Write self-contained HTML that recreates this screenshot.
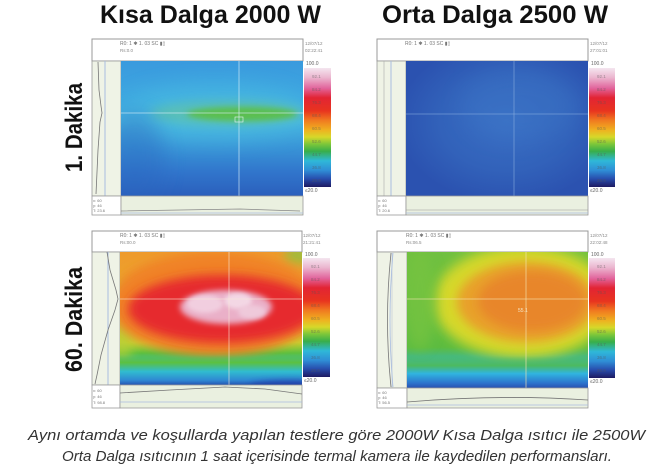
<!DOCTYPE html>
<html><head><meta charset="utf-8"><style>
html,body{margin:0;padding:0;background:#fff;}
svg{display:block;}
</style></head><body>
<svg width="654" height="471" viewBox="0 0 654 471" xmlns="http://www.w3.org/2000/svg" font-family="Liberation Sans, sans-serif">
<defs>
  <filter id="b2" x="-50%" y="-50%" width="200%" height="200%"><feGaussianBlur stdDeviation="2"/></filter>
  <filter id="b3" x="-50%" y="-50%" width="200%" height="200%"><feGaussianBlur stdDeviation="3"/></filter>
  <filter id="b5" x="-50%" y="-50%" width="200%" height="200%"><feGaussianBlur stdDeviation="5"/></filter>
  <filter id="b6" x="-50%" y="-50%" width="200%" height="200%"><feGaussianBlur stdDeviation="6"/></filter>
  <filter id="b10" x="-50%" y="-50%" width="200%" height="200%"><feGaussianBlur stdDeviation="10"/></filter>
  <linearGradient id="cb" x1="0" y1="0" x2="0" y2="1">
    <stop offset="0" stop-color="#f4e6ef"/>
    <stop offset="0.08" stop-color="#ebb6cf"/>
    <stop offset="0.17" stop-color="#e2649c"/>
    <stop offset="0.25" stop-color="#e22434"/>
    <stop offset="0.36" stop-color="#e8341f"/>
    <stop offset="0.44" stop-color="#f07a20"/>
    <stop offset="0.52" stop-color="#efb020"/>
    <stop offset="0.58" stop-color="#d6d82a"/>
    <stop offset="0.64" stop-color="#7cc63a"/>
    <stop offset="0.70" stop-color="#38ae4a"/>
    <stop offset="0.78" stop-color="#2fb8d8"/>
    <stop offset="0.86" stop-color="#2f8ed6"/>
    <stop offset="0.93" stop-color="#284eae"/>
    <stop offset="1" stop-color="#1e1a62"/>
  </linearGradient>
  <linearGradient id="g1" x1="0" y1="0" x2="0" y2="1">
    <stop offset="0" stop-color="#3a9ade"/>
    <stop offset="0.3" stop-color="#3ea8e0"/>
    <stop offset="0.45" stop-color="#46b4e0"/>
    <stop offset="0.62" stop-color="#3a98d8"/>
    <stop offset="0.82" stop-color="#3176cc"/>
    <stop offset="1" stop-color="#2b5fbc"/>
  </linearGradient>
  <radialGradient id="g2" cx="0.55" cy="0.45" r="0.6">
    <stop offset="0" stop-color="#3a6fc4"/>
    <stop offset="0.6" stop-color="#3262ba"/>
    <stop offset="1" stop-color="#2b52b0"/>
  </radialGradient>
  <linearGradient id="g3" x1="0" y1="0" x2="0" y2="1">
    <stop offset="0" stop-color="#ee9a2c"/>
    <stop offset="0.55" stop-color="#eab030"/>
    <stop offset="0.68" stop-color="#c8d030"/>
    <stop offset="0.76" stop-color="#5cc040"/>
    <stop offset="0.86" stop-color="#30bccc"/>
    <stop offset="0.95" stop-color="#2f86d2"/>
    <stop offset="1" stop-color="#2452b0"/>
  </linearGradient>
  <linearGradient id="g4" x1="0" y1="0" x2="0" y2="1">
    <stop offset="0" stop-color="#70c040"/>
    <stop offset="0.7" stop-color="#5cbc40"/>
    <stop offset="0.8" stop-color="#3cb89a"/>
    <stop offset="0.88" stop-color="#30b4e0"/>
    <stop offset="0.96" stop-color="#2c72cc"/>
    <stop offset="1" stop-color="#2850b0"/>
  </linearGradient>
  <linearGradient id="bot3" x1="0" y1="0" x2="0" y2="1">
    <stop offset="0" stop-color="#5cc040" stop-opacity="0"/>
    <stop offset="0.25" stop-color="#5cc040" stop-opacity="1"/>
    <stop offset="0.55" stop-color="#30bcd0"/>
    <stop offset="0.85" stop-color="#2f86d2"/>
    <stop offset="1" stop-color="#2452b0"/>
  </linearGradient>
  <linearGradient id="bot4" x1="0" y1="0" x2="0" y2="1">
    <stop offset="0" stop-color="#5cbc40" stop-opacity="0"/>
    <stop offset="0.3" stop-color="#4cba60" stop-opacity="1"/>
    <stop offset="0.55" stop-color="#30b4e0"/>
    <stop offset="0.85" stop-color="#2c72cc"/>
    <stop offset="1" stop-color="#2850b0"/>
  </linearGradient>
  <clipPath id="c1"><rect x="121" y="61" width="182" height="135"/></clipPath>
  <clipPath id="c2"><rect x="406" y="61" width="182" height="135"/></clipPath>
  <clipPath id="c3"><rect x="120" y="252" width="182" height="133"/></clipPath>
  <clipPath id="c4"><rect x="407" y="252" width="181" height="136"/></clipPath>
</defs>

<rect width="654" height="471" fill="#fff"/>

<!-- Titles -->
<text x="100" y="23" font-size="25" font-weight="bold" fill="#111" textLength="221" lengthAdjust="spacingAndGlyphs">Kısa Dalga 2000 W</text>
<text x="382" y="23" font-size="25" font-weight="bold" fill="#111" textLength="226" lengthAdjust="spacingAndGlyphs">Orta Dalga 2500 W</text>
<text transform="translate(82,172) rotate(-90)" font-size="24" font-weight="bold" fill="#111" textLength="89" lengthAdjust="spacingAndGlyphs">1. Dakika</text>
<text transform="translate(82,372) rotate(-90)" font-size="24" font-weight="bold" fill="#111" textLength="105" lengthAdjust="spacingAndGlyphs">60. Dakika</text>

<!-- ===== Panel 1 ===== -->
<g>
  <rect x="92" y="39" width="211" height="22" fill="#fff" stroke="#999" stroke-width="1"/>
  <text x="120" y="45" font-size="5" fill="#777">R0: 1  ✱  1. 03  SC  ▮▯</text>
  <text x="120" y="52" font-size="4.5" fill="#888">Rs:0.0</text>
  <text x="305" y="45" font-size="4.5" fill="#888">12/07/12</text>
  <text x="305" y="52" font-size="4.5" fill="#888">02:22:41</text>
  <rect x="92" y="61" width="29" height="135" fill="#eff3e6" stroke="#999" stroke-width="0.8"/>
  <line x1="105" y1="61" x2="105" y2="196" stroke="#a8bce0" stroke-width="1"/>
  <polyline points="98,62 99,90 101,106 102,113 100,122 98,150 96,194" fill="none" stroke="#777" stroke-width="0.8"/>
  <g clip-path="url(#c1)">
    <rect x="121" y="61" width="182" height="135" fill="url(#g1)"/>
    <ellipse cx="215" cy="112" rx="95" ry="28" fill="#4cc0e2" opacity="0.55" filter="url(#b10)"/>
    <ellipse cx="228" cy="113" rx="78" ry="12" fill="#62c3a0" opacity="0.65" filter="url(#b5)"/>
    <ellipse cx="242" cy="114" rx="55" ry="7" fill="#5cbf48" opacity="0.95" filter="url(#b3)"/>
    <ellipse cx="135" cy="160" rx="30" ry="50" fill="#2c66c0" opacity="0.4" filter="url(#b10)"/>
  </g>
  <line x1="121" y1="113" x2="303" y2="113" stroke="#d8eef8" stroke-width="0.8" opacity="0.8"/>
  <line x1="239" y1="61" x2="239" y2="196" stroke="#d8eef8" stroke-width="0.8" opacity="0.8"/>
  <rect x="235" y="117" width="8" height="5" fill="none" stroke="#e8f4f8" stroke-width="0.6"/>
  <rect x="92" y="196" width="29" height="19" fill="#fff" stroke="#999" stroke-width="0.8"/>
  <text x="93" y="202" font-size="4" fill="#777">x: 60</text>
  <text x="93" y="207" font-size="4" fill="#777">y: 46</text>
  <text x="93" y="212" font-size="4" fill="#777">T: 23.6</text>
  <rect x="121" y="196" width="182" height="19" fill="#eaf0e0" stroke="#999" stroke-width="0.8"/>
  <polyline points="121,211 180,210 240,209 300,211" fill="none" stroke="#888" stroke-width="0.8"/>
  <line x1="121" y1="213" x2="303" y2="213" stroke="#a8bce0" stroke-width="0.8"/>
  <rect x="304" y="68" width="27" height="119" fill="url(#cb)"/>
  <rect x="304" y="59" width="27" height="8" fill="#fff"/>
  <text x="306" y="65" font-size="5" fill="#666">100.0</text>
  <text x="305" y="192" font-size="5" fill="#666">≤20.0</text>
  <g font-size="4.5" fill="#555" opacity="0.55">
    <text x="312" y="78">92.1</text><text x="312" y="91">84.2</text><text x="312" y="104">76.3</text>
    <text x="312" y="117">68.4</text><text x="312" y="130">60.5</text><text x="312" y="143">52.6</text>
    <text x="312" y="156">44.7</text><text x="312" y="169">36.8</text><text x="312" y="182">28.9</text>
  </g>
</g>

<!-- ===== Panel 2 ===== -->
<g>
  <rect x="377" y="39" width="211" height="22" fill="#fff" stroke="#999" stroke-width="1"/>
  <text x="405" y="45" font-size="5" fill="#777">R0: 1  ✱  1. 03  SC  ▮▯</text>
  <text x="590" y="45" font-size="4.5" fill="#888">12/07/12</text>
  <text x="590" y="52" font-size="4.5" fill="#888">27:01:01</text>
  <rect x="377" y="61" width="29" height="135" fill="#eff3e6" stroke="#999" stroke-width="0.8"/>
  <line x1="391" y1="61" x2="391" y2="196" stroke="#a8bce0" stroke-width="1"/>
  <line x1="384" y1="61" x2="384" y2="196" stroke="#aaa" stroke-width="0.6"/>
  <g clip-path="url(#c2)">
    <rect x="406" y="61" width="182" height="135" fill="url(#g2)"/>
    <ellipse cx="520" cy="105" rx="60" ry="35" fill="#3c78c8" opacity="0.35" filter="url(#b10)"/>
  </g>
  <line x1="406" y1="114" x2="588" y2="114" stroke="#8cb0e0" stroke-width="0.8" opacity="0.7"/>
  <line x1="514" y1="61" x2="514" y2="196" stroke="#8cb0e0" stroke-width="0.8" opacity="0.7"/>
  <rect x="377" y="196" width="29" height="19" fill="#fff" stroke="#999" stroke-width="0.8"/>
  <text x="378" y="202" font-size="4" fill="#777">x: 60</text>
  <text x="378" y="207" font-size="4" fill="#777">y: 46</text>
  <text x="378" y="212" font-size="4" fill="#777">T: 20.6</text>
  <rect x="406" y="196" width="182" height="19" fill="#eaf0e0" stroke="#999" stroke-width="0.8"/>
  <line x1="406" y1="210" x2="588" y2="210" stroke="#999" stroke-width="0.6"/>
  <line x1="406" y1="213" x2="588" y2="213" stroke="#a8bce0" stroke-width="0.8"/>
  <rect x="589" y="68" width="26" height="119" fill="url(#cb)"/>
  <rect x="589" y="59" width="26" height="8" fill="#fff"/>
  <text x="591" y="65" font-size="5" fill="#666">100.0</text>
  <text x="590" y="192" font-size="5" fill="#666">≤20.0</text>
  <g font-size="4.5" fill="#555" opacity="0.55">
    <text x="597" y="78">92.1</text><text x="597" y="91">84.2</text><text x="597" y="104">76.3</text>
    <text x="597" y="117">68.4</text><text x="597" y="130">60.5</text><text x="597" y="143">52.6</text>
    <text x="597" y="156">44.7</text><text x="597" y="169">36.8</text><text x="597" y="182">28.9</text>
  </g>
</g>

<!-- ===== Panel 3 ===== -->
<g>
  <rect x="92" y="231" width="210" height="21" fill="#fff" stroke="#999" stroke-width="1"/>
  <text x="120" y="237" font-size="5" fill="#777">R0: 1  ✱  1. 03  SC  ▮▯</text>
  <text x="120" y="244" font-size="4.5" fill="#888">Rs:00.0</text>
  <text x="303" y="237" font-size="4.5" fill="#888">12/07/12</text>
  <text x="303" y="244" font-size="4.5" fill="#888">21:21:41</text>
  <rect x="92" y="252" width="28" height="133" fill="#eff3e6" stroke="#999" stroke-width="0.8"/>
  <line x1="108" y1="252" x2="108" y2="385" stroke="#a8bce0" stroke-width="1"/>
  <polyline points="107,252 110,270 116,290 118,299 115,310 108,330 101,355 97,375 95,384" fill="none" stroke="#777" stroke-width="0.8"/>
  <g clip-path="url(#c3)">
    <rect x="120" y="252" width="182" height="133" fill="url(#g3)"/>
    <ellipse cx="122" cy="322" rx="12" ry="40" fill="#b8d038" opacity="0.8" filter="url(#b6)"/>
    <ellipse cx="300" cy="255" rx="16" ry="9" fill="#90c440" opacity="0.8" filter="url(#b5)"/>
    <ellipse cx="215" cy="304" rx="106" ry="52" fill="#f08226" filter="url(#b5)"/>
    <ellipse cx="222" cy="309" rx="94" ry="34" fill="#e62c2e" filter="url(#b5)"/>
    <ellipse cx="226" cy="307" rx="46" ry="17" fill="#eab0c8" filter="url(#b3)"/>
    <ellipse cx="205" cy="304" rx="18" ry="9" fill="#f2d2e2" opacity="0.9" filter="url(#b2)"/>
    <ellipse cx="238" cy="301" rx="14" ry="8" fill="#f4dce8" opacity="0.9" filter="url(#b2)"/>
    <ellipse cx="252" cy="312" rx="14" ry="7" fill="#f0cede" opacity="0.85" filter="url(#b2)"/>
    <rect x="120" y="355" width="182" height="30" fill="url(#bot3)"/>
    <ellipse cx="290" cy="386" rx="40" ry="6" fill="#2040a8" opacity="0.8" filter="url(#b3)"/>
  </g>
  <line x1="120" y1="299" x2="302" y2="299" stroke="#f8e8d8" stroke-width="0.8" opacity="0.75"/>
  <line x1="229" y1="252" x2="229" y2="385" stroke="#f8e8d8" stroke-width="0.8" opacity="0.75"/>
  <rect x="92" y="385" width="28" height="23" fill="#fff" stroke="#999" stroke-width="0.8"/>
  <text x="93" y="392" font-size="4" fill="#777">x: 60</text>
  <text x="93" y="398" font-size="4" fill="#777">y: 46</text>
  <text x="93" y="404" font-size="4" fill="#777">T: 98.8</text>
  <rect x="120" y="385" width="182" height="23" fill="#eaf0e0" stroke="#999" stroke-width="0.8"/>
  <polyline points="120,393 170,390 225,387 265,389 302,394" fill="none" stroke="#777" stroke-width="0.8"/>
  <line x1="120" y1="402" x2="302" y2="402" stroke="#a8bce0" stroke-width="0.8"/>
  <rect x="303" y="258" width="27" height="119" fill="url(#cb)"/>
  <rect x="303" y="250" width="27" height="8" fill="#fff"/>
  <text x="305" y="256" font-size="5" fill="#666">100.0</text>
  <text x="304" y="382" font-size="5" fill="#666">≤20.0</text>
  <g font-size="4.5" fill="#555" opacity="0.55">
    <text x="311" y="268">92.1</text><text x="311" y="281">84.2</text><text x="311" y="294">76.3</text>
    <text x="311" y="307">68.4</text><text x="311" y="320">60.5</text><text x="311" y="333">52.6</text>
    <text x="311" y="346">44.7</text><text x="311" y="359">36.8</text><text x="311" y="372">28.9</text>
  </g>
</g>

<!-- ===== Panel 4 ===== -->
<g>
  <rect x="377" y="231" width="211" height="21" fill="#fff" stroke="#999" stroke-width="1"/>
  <text x="406" y="237" font-size="5" fill="#777">R0: 1  ✱  1. 03  SC  ▮▯</text>
  <text x="406" y="244" font-size="4.5" fill="#888">Rs:06.5</text>
  <text x="590" y="237" font-size="4.5" fill="#888">12/07/12</text>
  <text x="590" y="244" font-size="4.5" fill="#888">22:02:48</text>
  <rect x="377" y="252" width="30" height="136" fill="#eff3e6" stroke="#999" stroke-width="0.8"/>
  <line x1="392" y1="252" x2="392" y2="388" stroke="#c8d0d8" stroke-width="0.8"/>
  <path d="M391,253 Q384,320 391,387" fill="none" stroke="#777" stroke-width="0.8"/>
  <path d="M393,253 Q387,320 393,387" fill="none" stroke="#a8bce0" stroke-width="0.8"/>
  <g clip-path="url(#c4)">
    <rect x="407" y="252" width="181" height="136" fill="url(#g4)"/>
    <ellipse cx="523" cy="302" rx="90" ry="56" fill="#d6d82a" filter="url(#b6)"/>
    <ellipse cx="527" cy="302" rx="70" ry="40" fill="#e8a02a" filter="url(#b5)"/>
    <ellipse cx="532" cy="301" rx="54" ry="30" fill="#e8862a" filter="url(#b5)"/>
    <ellipse cx="420" cy="300" rx="16" ry="50" fill="#78c440" opacity="0.7" filter="url(#b6)"/>
    <rect x="407" y="356" width="181" height="32" fill="url(#bot4)"/>
  </g>
  <line x1="407" y1="299" x2="588" y2="299" stroke="#f4e4b0" stroke-width="0.8" opacity="0.8"/>
  <line x1="526" y1="252" x2="526" y2="388" stroke="#f4e4b0" stroke-width="0.8" opacity="0.8"/>
  <text x="518" y="312" font-size="5" fill="#f6e8c8">55.1</text>
  <rect x="377" y="388" width="30" height="20" fill="#fff" stroke="#999" stroke-width="0.8"/>
  <text x="378" y="394" font-size="4" fill="#777">x: 60</text>
  <text x="378" y="399" font-size="4" fill="#777">y: 46</text>
  <text x="378" y="404" font-size="4" fill="#777">T: 56.5</text>
  <rect x="407" y="388" width="181" height="20" fill="#eaf0e0" stroke="#999" stroke-width="0.8"/>
  <path d="M407,402 Q500,394 588,400" fill="none" stroke="#777" stroke-width="0.8"/>
  <line x1="407" y1="405" x2="588" y2="405" stroke="#a8bce0" stroke-width="0.8"/>
  <rect x="589" y="258" width="26" height="120" fill="url(#cb)"/>
  <rect x="589" y="250" width="26" height="8" fill="#fff"/>
  <text x="591" y="256" font-size="5" fill="#666">100.0</text>
  <text x="590" y="383" font-size="5" fill="#666">≤20.0</text>
  <g font-size="4.5" fill="#555" opacity="0.55">
    <text x="597" y="268">92.1</text><text x="597" y="281">84.2</text><text x="597" y="294">76.3</text>
    <text x="597" y="307">68.4</text><text x="597" y="320">60.5</text><text x="597" y="333">52.6</text>
    <text x="597" y="346">44.7</text><text x="597" y="359">36.8</text><text x="597" y="372">28.9</text>
  </g>
</g>

<!-- Caption -->
<text x="28" y="440" font-size="14.5" font-style="italic" fill="#333" textLength="617" lengthAdjust="spacingAndGlyphs">Aynı ortamda ve koşullarda yapılan testlere göre 2000W Kısa Dalga ısıtıcı ile 2500W</text>
<text x="62" y="461" font-size="14.5" font-style="italic" fill="#333" textLength="550" lengthAdjust="spacingAndGlyphs">Orta Dalga ısıtıcının 1 saat içerisinde termal kamera ile kaydedilen performansları.</text>
</svg>
</body></html>
